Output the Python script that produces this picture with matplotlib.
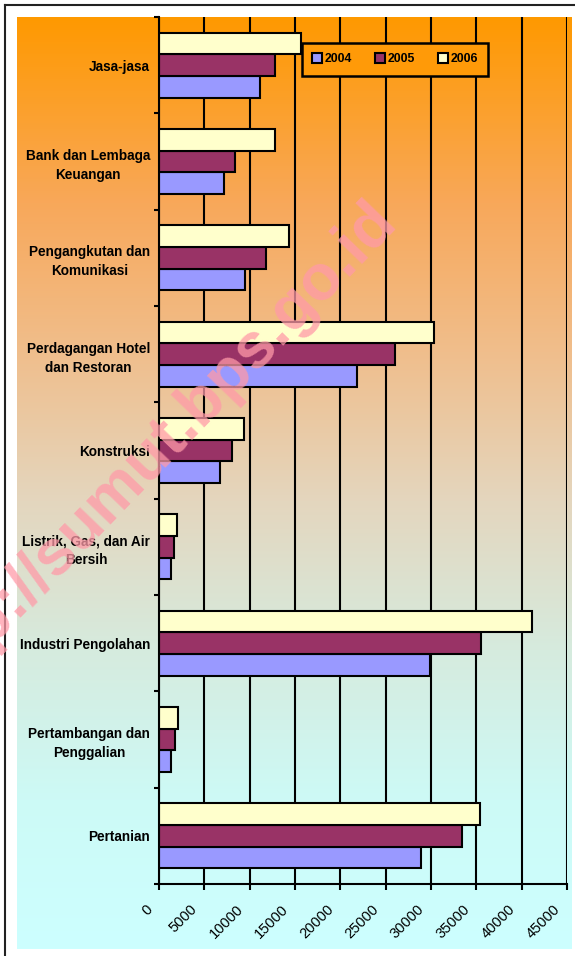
import numpy as np
import matplotlib
matplotlib.use("Agg")
import matplotlib.pyplot as plt
from matplotlib.patches import Patch
from matplotlib.lines import Line2D
from matplotlib.transforms import ScaledTranslation

plt.rcParams['font.family'] = ['Liberation Sans', 'DejaVu Sans']

# categories listed top to bottom as in the chart
sectors = ['Jasa-jasa', 'Bank dan Lembaga\nKeuangan', 'Pengangkutan dan\nKomunikasi',
           'Perdagangan Hotel\ndan Restoran', 'Konstruksi', 'Listrik, Gas, dan Air\nBersih',
           'Industri Pengolahan', 'Pertambangan dan\nPenggalian', 'Pertanian']
v2004 = [11100, 7150, 9450, 21800, 6700, 1350, 29850, 1300, 28850]
v2005 = [12800, 8350, 11800, 26050, 8100, 1700, 35550, 1750, 33450]
v2006 = [15650, 12800, 14300, 30300, 9350, 2000, 41150, 2100, 35450]
years = ['2004', '2005', '2006']
colors = ['#9999FF', '#993366', '#FFFFCC']
xticks = [0, 5000, 10000, 15000, 20000, 25000, 30000, 35000, 40000, 45000]

W, H = 575, 956
fig = plt.figure(figsize=(W / 100, H / 100), dpi=100)
fig.patch.set_facecolor('white')

# gradient background
bg = fig.add_axes([17 / W, 1 - 949 / H, 555 / W, 932 / H])
stops = np.array([0.0, 0.2, 0.36, 0.52, 0.68, 0.84, 1.0])
cols = np.array([[255, 153, 0], [248, 168, 90], [240, 190, 140], [228, 214, 190],
                 [214, 235, 222], [205, 250, 246], [204, 255, 255]]) / 255.0
t = np.linspace(0, 1, 400)
grad = np.stack([np.interp(t, stops, cols[:, k]) for k in range(3)], axis=-1)[:, None, :]
bg.imshow(grad, aspect='auto', extent=[0, 1, 0, 1], origin='upper')
bg.axis('off')

# outer frame (left and top edges visible)
fig.add_artist(Line2D([5 / W, 5 / W], [0, 1 - 5 / H], transform=fig.transFigure, color='#222222', lw=1.5))
fig.add_artist(Line2D([5 / W, 1], [1 - 5 / H, 1 - 5 / H], transform=fig.transFigure, color='#222222', lw=1.5))

ax = fig.add_axes([159 / W, 1 - 884 / H, 408 / W, 867 / H])
ax.set_facecolor('none')

n = len(sectors)
pos = np.arange(n)[::-1]
bh = 0.225
for vals, off, c, lab in zip([v2004, v2005, v2006], [-bh, 0, bh], colors, years):
    ax.barh(pos + off, vals, height=bh, color=c, edgecolor='black', linewidth=1.5, label=lab, zorder=3)

ax.set_xlim(0, 45000)
ax.set_ylim(-0.5, n - 0.5)
ax.set_xticks(xticks)
ax.set_xticklabels([])
ax.tick_params(axis='x', length=4.5, width=1.5, direction='out')
ax.grid(axis='x', color='black', linewidth=1.5, zorder=1)
ax.set_axisbelow(True)

# rotated x labels, shifted left/down of their ticks
shift = ax.get_xaxis_transform() + ScaledTranslation(-9 / 100, -23 / 100, fig.dpi_scale_trans)
for x in xticks:
    ax.text(x, 0, str(x), transform=shift, rotation=45, rotation_mode='anchor',
            ha='right', va='center', fontsize=10.5)

ax.set_yticks(pos)
ax.set_yticklabels(sectors, fontsize=9.8, fontweight='bold', multialignment='center',
                   linespacing=1.45)
ax.set_yticks(np.arange(n + 1) - 0.5, minor=True)
ax.tick_params(axis='y', which='major', length=0, pad=6.5)
ax.tick_params(axis='y', which='minor', length=3.5, width=1.5, direction='out')

for s in ['top', 'right']:
    ax.spines[s].set_visible(False)
for s in ['left', 'bottom']:
    ax.spines[s].set_linewidth(1.5)
    ax.spines[s].set_zorder(4)

handles = [Patch(facecolor=c, edgecolor='black', linewidth=1.5, label=y) for c, y in zip(colors, years)]
leg = fig.legend(handles=handles, loc='upper left', bbox_to_anchor=(302 / W, 1 - 43 / H),
                 ncol=3, prop={'weight': 'bold', 'size': 8.8},
                 handlelength=0.8, handleheight=0.8, handletextpad=0.2, columnspacing=1.9,
                 borderpad=0.85, borderaxespad=0, fancybox=False, framealpha=1,
                 facecolor='#FF9A08', edgecolor='black')
leg.get_frame().set_linewidth(1.8)

# watermark
fig.text(398 / W, 1 - 222 / H, 'http://sumut.bps.go.id', rotation=46, rotation_mode='anchor',
         ha='right', va='baseline', fontsize=46, fontweight='bold', color='#ff9aa8', alpha=0.75,
         zorder=10)

fig.savefig('out.png', dpi=100)
